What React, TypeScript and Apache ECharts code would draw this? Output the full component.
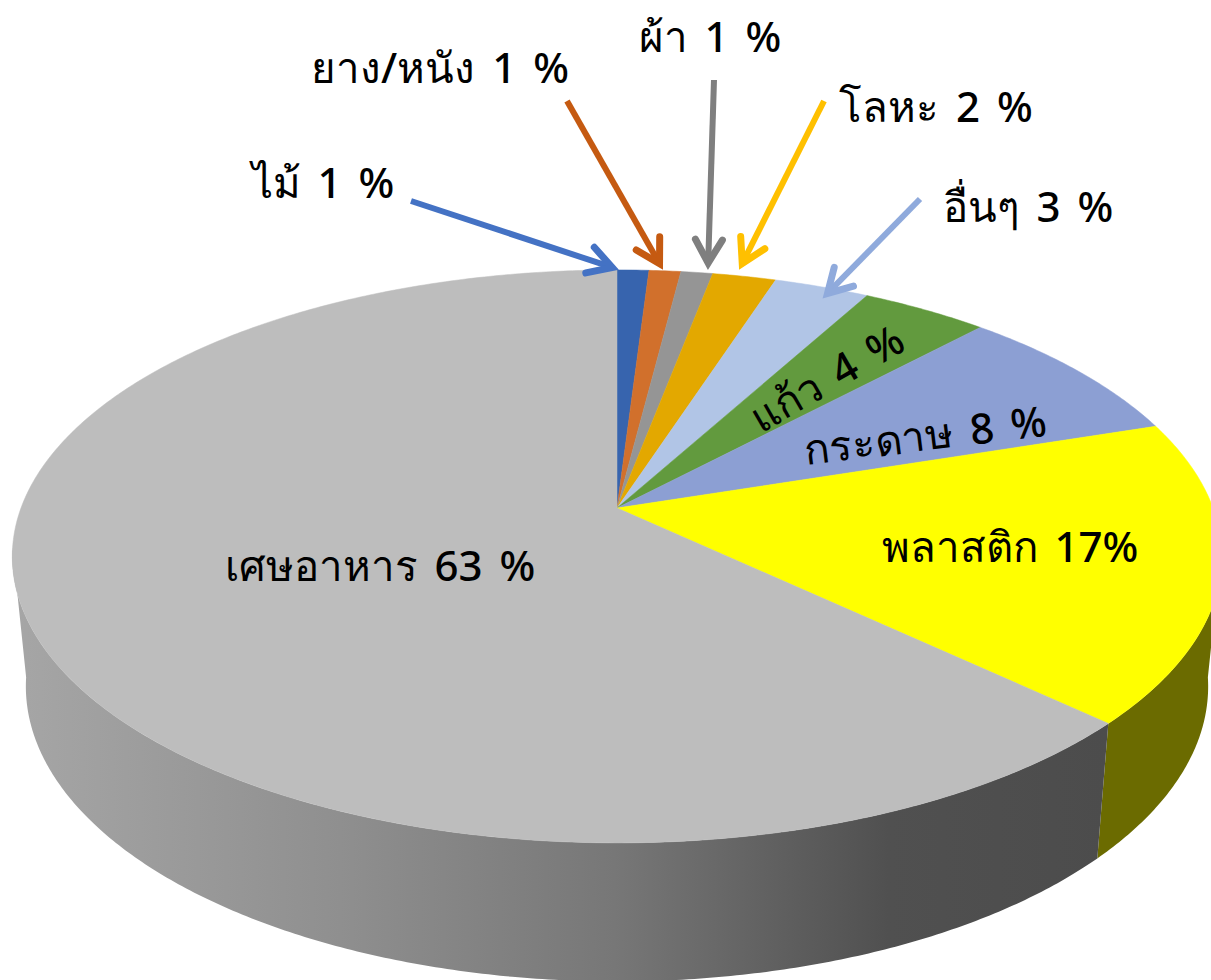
import React, { useEffect, useRef } from "react";
import * as echarts from "echarts";

const categories = ["ไม้", "ยาง/หนัง", "ผ้า", "โลหะ", "อื่นๆ", "แก้ว", "กระดาษ", "พลาสติก", "เศษอาหาร"];
const values = [1, 1, 1, 2, 3, 4, 8, 17, 63];
const topColors = ["#3764ae", "#d1702c", "#959595", "#e3a800", "#b1c5e6", "#629a3e", "#8c9fd3", "#ffff00", "#bdbdbd"];
const labelTexts = ["ไม้ 1 %", "ยาง/หนัง 1 %", "ผ้า 1 %", "โลหะ 2 %", "อื่นๆ 3 %", "แก้ว 4 %", "กระดาษ 8 %", "พลาสติก 17%", "เศษอาหาร 63 %"];

const W = 1211, H = 980;
const APEX_X = 617, APEX_Y = 508, R = 596, A = 278.3, K = 0.169;
const DEPTH = 128.5, SHRINK_X = 0.9776, STRETCH_Y = 1.03;
const FONT = '"Noto Sans", "Noto Sans CJK SC", sans-serif';

const total = values.reduce((a, b) => a + b, 0);
const startPct = values.map((_, i) => values.slice(0, i).reduce((a, b) => a + b, 0));

function rim(deg: number): [number, number] {
  const t = (deg * Math.PI) / 180;
  const d = 1 + K * Math.cos(t);
  return [(R * Math.sin(t)) / d, (-A * Math.cos(t)) / d];
}
const topPt = (deg: number): number[] => {
  const [x, y] = rim(deg);
  return [APEX_X + x, APEX_Y + y];
};
const botPt = (deg: number): number[] => {
  const [x, y] = rim(deg);
  return [APEX_X + x * SHRINK_X, APEX_Y + y * STRETCH_Y + DEPTH];
};
function arc(f: (d: number) => number[], a: number, b: number): number[][] {
  const n = Math.max(2, Math.ceil(Math.abs(b - a) * 2));
  const out: number[][] = [];
  for (let i = 0; i <= n; i++) out.push(f(a + ((b - a) * i) / n));
  return out;
}
const sliceRange = (i: number): [number, number] => [
  (startPct[i] / total) * 360,
  ((startPct[i] + values[i]) / total) * 360,
];

const SIDE_FROM = 98, SIDE_TO = 262;

const sideFill = (i: number): any =>
  categories[i] === "พลาสติก"
    ? "#6b6b00"
    : new echarts.graphic.LinearGradient(
        12, 0, 1108, 0,
        [
          { offset: 0, color: "#a6a6a6" },
          { offset: 0.3, color: "#8f8f8f" },
          { offset: 0.55, color: "#777777" },
          { offset: 0.8, color: "#505050" },
          { offset: 1, color: "#4c4c4c" },
        ],
        true
      );

const renderSide = (p: any) => {
  const [a0, b0] = sliceRange(p.dataIndex);
  const a = Math.max(a0, SIDE_FROM), b = Math.min(b0, SIDE_TO);
  if (a >= b) return { type: "group", children: [] };
  const points = [...arc(topPt, a, b), ...arc(botPt, b, a)];
  return { type: "polygon", shape: { points }, style: { fill: sideFill(p.dataIndex) } };
};

const renderTop = (p: any) => {
  const [a, b] = sliceRange(p.dataIndex);
  const points = [[APEX_X, APEX_Y], ...arc(topPt, a, b)];
  const c = topColors[p.dataIndex];
  return { type: "polygon", shape: { points }, style: { fill: c, stroke: c, lineWidth: 0.5 } };
};

const arrows = [
  { from: [411, 201], to: [617, 269], color: "#4472c4" },
  { from: [567, 101], to: [662, 268], color: "#c55a11" },
  { from: [714, 80], to: [708, 268], color: "#7f7f7f" },
  { from: [824, 101], to: [740, 268], color: "#ffc000" },
  { from: [920, 199], to: [824, 297], color: "#8faadc" },
];

const labelPos = [
  { x: 323, y: 181, r: 0 },
  { x: 440, y: 66, r: 0 },
  { x: 710, y: 35, r: 0 },
  { x: 936, y: 105, r: 0 },
  { x: 1028, y: 205, r: 0 },
  { x: 826, y: 377, r: 30 },
  { x: 925, y: 434, r: 7 },
  { x: 1010, y: 545, r: 0 },
  { x: 380, y: 564, r: 0 },
];

function arrowGraphics(): any[] {
  const out: any[] = [];
  arrows.forEach((a) => {
    const ang = Math.atan2(a.to[1] - a.from[1], a.to[0] - a.from[0]);
    const len = 27, spread = (30 * Math.PI) / 180;
    const tip = [a.to[0] - 5 * Math.cos(ang), a.to[1] - 5 * Math.sin(ang)];
    out.push({
      type: "line",
      z: 50,
      shape: { x1: a.from[0], y1: a.from[1], x2: tip[0], y2: tip[1] },
      style: { stroke: a.color, lineWidth: 6, lineCap: "butt" },
    });
    out.push({
      type: "polyline",
      z: 50,
      shape: {
        points: [
          [tip[0] - len * Math.cos(ang - spread), tip[1] - len * Math.sin(ang - spread)],
          tip,
          [tip[0] - len * Math.cos(ang + spread), tip[1] - len * Math.sin(ang + spread)],
        ],
      },
      style: { stroke: a.color, lineWidth: 7, fill: "none", lineCap: "round", lineJoin: "miter", miterLimit: 10 },
    });
  });
  return out;
}

function labelGraphics(): any[] {
  return labelTexts.map((text, i) => ({
    type: "text",
    z: 60,
    x: labelPos[i].x,
    y: labelPos[i].y,
    rotation: (labelPos[i].r * Math.PI) / 180,
    style: {
      text,
      fill: "#000",
      font: `500 42px ${FONT}`,
      textAlign: "center",
      textVerticalAlign: "middle",
    },
  }));
}

export default function App() {
  const ref = useRef<HTMLDivElement>(null);
  useEffect(() => {
    document.body.style.margin = "0";
    const chart = echarts.init(ref.current!, null, { renderer: "svg" });
    const data = values.map((v, i) => ({ name: categories[i], value: v }));
    chart.setOption({
      animation: false,
      backgroundColor: "#ffffff",
      series: [
        { type: "custom", coordinateSystem: "none", z: 1, renderItem: renderSide, data, silent: true },
        { type: "custom", coordinateSystem: "none", z: 2, renderItem: renderTop, data, silent: true },
      ],
      graphic: { elements: [...arrowGraphics(), ...labelGraphics()] },
    });
    return () => chart.dispose();
  }, []);
  return (
    <>
      <style>{"svg text { word-spacing: 6px; }"}</style>
      <div ref={ref} style={{ width: W, height: H, overflow: "hidden" }} />
    </>
  );
}
